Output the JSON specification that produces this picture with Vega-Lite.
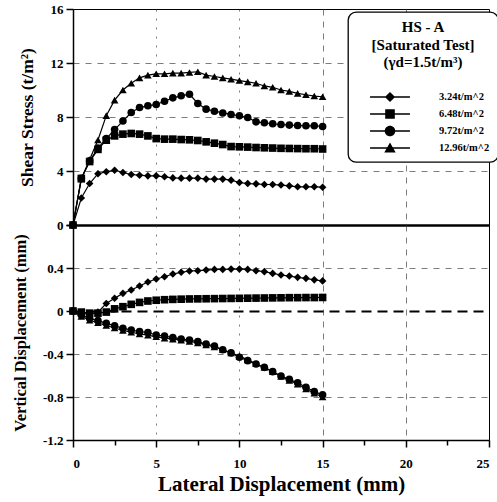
{
  "$schema": "https://vega.github.io/schema/vega-lite/v6.json",
  "padding": {"left": 11, "top": 2, "right": 2, "bottom": 2},
  "config": {
    "font": "Liberation Serif",
    "view": {"stroke": "black", "strokeWidth": 1},
    "axis": {
      "labelFont": "Liberation Serif", "labelFontWeight": "bold", "labelFontSize": 13, "labelColor": "black",
      "titleFont": "Liberation Serif", "titleFontWeight": "bold", "titleColor": "black",
      "domainColor": "black", "tickColor": "black", "domainWidth": 1.5, "tickWidth": 1.5,
      "gridColor": "#444", "gridWidth": 0.7, "labelPadding": 3
    },
    "legend": {"strokeWidth": 1.3}
  },
  "datasets": {
    "main": [
      {"d":0,"s":"3.24t/m^2","tau":0,"v":0},{"d":0.5,"s":"3.24t/m^2","tau":2.0,"v":-0.02},{"d":1,"s":"3.24t/m^2","tau":3.07,"v":-0.03},{"d":1.5,"s":"3.24t/m^2","tau":3.8,"v":-0.01},{"d":2,"s":"3.24t/m^2","tau":3.94,"v":0.07},{"d":2.5,"s":"3.24t/m^2","tau":4.06,"v":0.118},{"d":3,"s":"3.24t/m^2","tau":3.89,"v":0.164},{"d":3.5,"s":"3.24t/m^2","tau":3.74,"v":0.195},{"d":4,"s":"3.24t/m^2","tau":3.69,"v":0.233},{"d":4.5,"s":"3.24t/m^2","tau":3.64,"v":0.27},{"d":5,"s":"3.24t/m^2","tau":3.64,"v":0.298},{"d":5.5,"s":"3.24t/m^2","tau":3.57,"v":0.319},{"d":6,"s":"3.24t/m^2","tau":3.49,"v":0.344},{"d":6.5,"s":"3.24t/m^2","tau":3.47,"v":0.36},{"d":7,"s":"3.24t/m^2","tau":3.47,"v":0.372},{"d":7.5,"s":"3.24t/m^2","tau":3.47,"v":0.375},{"d":8,"s":"3.24t/m^2","tau":3.4,"v":0.381},{"d":8.5,"s":"3.24t/m^2","tau":3.4,"v":0.387},{"d":9,"s":"3.24t/m^2","tau":3.4,"v":0.387},{"d":9.5,"s":"3.24t/m^2","tau":3.32,"v":0.39},{"d":10,"s":"3.24t/m^2","tau":3.15,"v":0.39},{"d":10.5,"s":"3.24t/m^2","tau":3.07,"v":0.387},{"d":11,"s":"3.24t/m^2","tau":3.05,"v":0.375},{"d":11.5,"s":"3.24t/m^2","tau":3.0,"v":0.366},{"d":12,"s":"3.24t/m^2","tau":3.0,"v":0.35},{"d":12.5,"s":"3.24t/m^2","tau":2.96,"v":0.335},{"d":13,"s":"3.24t/m^2","tau":2.9,"v":0.325},{"d":13.5,"s":"3.24t/m^2","tau":2.83,"v":0.313},{"d":14,"s":"3.24t/m^2","tau":2.83,"v":0.304},{"d":14.5,"s":"3.24t/m^2","tau":2.83,"v":0.29},{"d":15,"s":"3.24t/m^2","tau":2.8,"v":0.28},
      {"d":0,"s":"6.48t/m^2","tau":0,"v":0},{"d":0.5,"s":"6.48t/m^2","tau":3.45,"v":-0.01},{"d":1,"s":"6.48t/m^2","tau":4.7,"v":-0.02},{"d":1.5,"s":"6.48t/m^2","tau":5.6,"v":-0.02},{"d":2,"s":"6.48t/m^2","tau":6.28,"v":-0.01},{"d":2.5,"s":"6.48t/m^2","tau":6.6,"v":0.02},{"d":3,"s":"6.48t/m^2","tau":6.73,"v":0.04},{"d":3.5,"s":"6.48t/m^2","tau":6.78,"v":0.062},{"d":4,"s":"6.48t/m^2","tau":6.73,"v":0.08},{"d":4.5,"s":"6.48t/m^2","tau":6.6,"v":0.093},{"d":5,"s":"6.48t/m^2","tau":6.4,"v":0.1},{"d":5.5,"s":"6.48t/m^2","tau":6.36,"v":0.105},{"d":6,"s":"6.48t/m^2","tau":6.36,"v":0.108},{"d":6.5,"s":"6.48t/m^2","tau":6.33,"v":0.11},{"d":7,"s":"6.48t/m^2","tau":6.31,"v":0.112},{"d":7.5,"s":"6.48t/m^2","tau":6.26,"v":0.113},{"d":8,"s":"6.48t/m^2","tau":6.16,"v":0.114},{"d":8.5,"s":"6.48t/m^2","tau":6.06,"v":0.115},{"d":9,"s":"6.48t/m^2","tau":5.96,"v":0.116},{"d":9.5,"s":"6.48t/m^2","tau":5.81,"v":0.117},{"d":10,"s":"6.48t/m^2","tau":5.79,"v":0.118},{"d":10.5,"s":"6.48t/m^2","tau":5.77,"v":0.119},{"d":11,"s":"6.48t/m^2","tau":5.74,"v":0.12},{"d":11.5,"s":"6.48t/m^2","tau":5.72,"v":0.121},{"d":12,"s":"6.48t/m^2","tau":5.7,"v":0.122},{"d":12.5,"s":"6.48t/m^2","tau":5.68,"v":0.123},{"d":13,"s":"6.48t/m^2","tau":5.67,"v":0.124},{"d":13.5,"s":"6.48t/m^2","tau":5.66,"v":0.124},{"d":14,"s":"6.48t/m^2","tau":5.65,"v":0.125},{"d":14.5,"s":"6.48t/m^2","tau":5.65,"v":0.125},{"d":15,"s":"6.48t/m^2","tau":5.63,"v":0.126},
      {"d":0,"s":"9.72t/m^2","tau":0,"v":0},{"d":0.5,"s":"9.72t/m^2","tau":3.45,"v":-0.037},{"d":1,"s":"9.72t/m^2","tau":4.75,"v":-0.068},{"d":1.5,"s":"9.72t/m^2","tau":5.7,"v":-0.09},{"d":2,"s":"9.72t/m^2","tau":6.4,"v":-0.115},{"d":2.5,"s":"9.72t/m^2","tau":7.07,"v":-0.137},{"d":3,"s":"9.72t/m^2","tau":7.7,"v":-0.161},{"d":3.5,"s":"9.72t/m^2","tau":8.33,"v":-0.177},{"d":4,"s":"9.72t/m^2","tau":8.7,"v":-0.192},{"d":4.5,"s":"9.72t/m^2","tau":8.83,"v":-0.2},{"d":5,"s":"9.72t/m^2","tau":8.93,"v":-0.223},{"d":5.5,"s":"9.72t/m^2","tau":9.17,"v":-0.233},{"d":6,"s":"9.72t/m^2","tau":9.42,"v":-0.248},{"d":6.5,"s":"9.72t/m^2","tau":9.57,"v":-0.26},{"d":7,"s":"9.72t/m^2","tau":9.69,"v":-0.27},{"d":7.5,"s":"9.72t/m^2","tau":9.0,"v":-0.285},{"d":8,"s":"9.72t/m^2","tau":8.58,"v":-0.307},{"d":8.5,"s":"9.72t/m^2","tau":8.43,"v":-0.326},{"d":9,"s":"9.72t/m^2","tau":8.3,"v":-0.36},{"d":9.5,"s":"9.72t/m^2","tau":8.19,"v":-0.39},{"d":10,"s":"9.72t/m^2","tau":8.09,"v":-0.43},{"d":10.5,"s":"9.72t/m^2","tau":7.96,"v":-0.462},{"d":11,"s":"9.72t/m^2","tau":7.64,"v":-0.493},{"d":11.5,"s":"9.72t/m^2","tau":7.57,"v":-0.524},{"d":12,"s":"9.72t/m^2","tau":7.5,"v":-0.564},{"d":12.5,"s":"9.72t/m^2","tau":7.44,"v":-0.605},{"d":13,"s":"9.72t/m^2","tau":7.4,"v":-0.636},{"d":13.5,"s":"9.72t/m^2","tau":7.37,"v":-0.667},{"d":14,"s":"9.72t/m^2","tau":7.35,"v":-0.71},{"d":14.5,"s":"9.72t/m^2","tau":7.35,"v":-0.75},{"d":15,"s":"9.72t/m^2","tau":7.3,"v":-0.78},
      {"d":0,"s":"12.96t/m^2","tau":0,"v":0},{"d":0.5,"s":"12.96t/m^2","tau":3.4,"v":-0.05},{"d":1,"s":"12.96t/m^2","tau":4.85,"v":-0.085},{"d":1.5,"s":"12.96t/m^2","tau":6.3,"v":-0.11},{"d":2,"s":"12.96t/m^2","tau":8.1,"v":-0.135},{"d":2.5,"s":"12.96t/m^2","tau":9.25,"v":-0.158},{"d":3,"s":"12.96t/m^2","tau":10.0,"v":-0.18},{"d":3.5,"s":"12.96t/m^2","tau":10.5,"v":-0.198},{"d":4,"s":"12.96t/m^2","tau":10.9,"v":-0.213},{"d":4.5,"s":"12.96t/m^2","tau":11.1,"v":-0.225},{"d":5,"s":"12.96t/m^2","tau":11.2,"v":-0.24},{"d":5.5,"s":"12.96t/m^2","tau":11.2,"v":-0.252},{"d":6,"s":"12.96t/m^2","tau":11.25,"v":-0.262},{"d":6.5,"s":"12.96t/m^2","tau":11.25,"v":-0.272},{"d":7,"s":"12.96t/m^2","tau":11.3,"v":-0.283},{"d":7.5,"s":"12.96t/m^2","tau":11.35,"v":-0.297},{"d":8,"s":"12.96t/m^2","tau":11.1,"v":-0.315},{"d":8.5,"s":"12.96t/m^2","tau":11.0,"v":-0.335},{"d":9,"s":"12.96t/m^2","tau":10.9,"v":-0.36},{"d":9.5,"s":"12.96t/m^2","tau":10.8,"v":-0.39},{"d":10,"s":"12.96t/m^2","tau":10.7,"v":-0.42},{"d":10.5,"s":"12.96t/m^2","tau":10.6,"v":-0.455},{"d":11,"s":"12.96t/m^2","tau":10.5,"v":-0.49},{"d":11.5,"s":"12.96t/m^2","tau":10.3,"v":-0.525},{"d":12,"s":"12.96t/m^2","tau":10.2,"v":-0.565},{"d":12.5,"s":"12.96t/m^2","tau":10.0,"v":-0.61},{"d":13,"s":"12.96t/m^2","tau":9.9,"v":-0.645},{"d":13.5,"s":"12.96t/m^2","tau":9.75,"v":-0.68},{"d":14,"s":"12.96t/m^2","tau":9.65,"v":-0.725},{"d":14.5,"s":"12.96t/m^2","tau":9.55,"v":-0.765},{"d":15,"s":"12.96t/m^2","tau":9.5,"v":-0.8}
    ]
  },
  "spacing": 0,
  "bounds": "flush",
  "vconcat": [
    {
      "width": 416,
      "height": 216,
      "data": {"name": "main"},
      "layer": [
        {
          "mark": {"type": "line", "color": "black", "strokeWidth": 1.2},
          "encoding": {
            "x": {"field": "d", "type": "quantitative", "scale": {"domain": [0, 25], "nice": false},
              "axis": {"title": null, "labels": false, "ticks": false, "domainWidth": 2.5, "values": [5, 10, 15, 20], "grid": true,
                "gridDash": {"condition": {"test": "datum.value < 12", "value": [2, 7]}, "value": [6, 6]}}},
            "y": {"field": "tau", "type": "quantitative", "scale": {"domain": [0, 16], "nice": false},
              "axis": {"title": "Shear  Stress (t/m²)", "titleFontSize": 17.5, "titlePadding": 14,
                "values": [0, 2, 4, 6, 8, 10, 12, 14, 16],
                "labelExpr": "datum.value % 4 === 0 ? datum.label : ''",
                "tickSize": {"condition": {"test": "datum.value % 4 === 0", "value": 7}, "value": 4},
                "grid": true, "gridDash": [6, 6],
                "gridOpacity": {"condition": {"test": "datum.value % 4 === 0 && datum.value > 0 && datum.value < 16", "value": 1}, "value": 0}}},
            "detail": {"field": "s", "type": "nominal"}
          }
        },
        {
          "mark": {"type": "point", "filled": true, "color": "black", "opacity": 1, "size": 58},
          "encoding": {
            "x": {"field": "d", "type": "quantitative"},
            "y": {"field": "tau", "type": "quantitative"},
            "shape": {"field": "s", "type": "nominal",
              "scale": {"domain": ["3.24t/m^2", "6.48t/m^2", "9.72t/m^2", "12.96t/m^2"], "range": ["diamond", "square", "circle", "triangle-up"]},
              "legend": null}
          }
        },
        {
          "data": {"values": []},
          "mark": {"type": "point", "filled": true, "color": "black"},
          "encoding": {
            "shape": {"field": "s", "type": "nominal",
              "scale": {"domain": ["3.24t/m^2", "6.48t/m^2", "9.72t/m^2", "12.96t/m^2"],
                "range": [
                  "M-3.33,-0.12H3.33V0.12H-3.33ZM0,-0.85L0.85,0L0,0.85L-0.85,0Z",
                  "M-3.33,-0.12H3.33V0.12H-3.33ZM-0.8,-0.8H0.8V0.8H-0.8Z",
                  "M-3.33,-0.12H3.33V0.12H-3.33ZM-0.88,0A0.88,0.88,0,1,1,0.88,0A0.88,0.88,0,1,1,-0.88,0Z",
                  "M-3.33,-0.12H3.33V0.12H-3.33ZM0,-0.9L0.95,0.75L-0.95,0.75Z"
                ]},
              "legend": {
                "title": ["HS - A", "[Saturated Test]", "(γd=1.5t/m³)"],
                "orient": "none", "legendX": 275, "legendY": 3,
                "strokeColor": "black", "fillColor": "white", "cornerRadius": 8, "padding": 8,
                "titleFont": "Liberation Serif", "titleFontSize": 15, "titleFontWeight": "bold", "titleColor": "black",
                "titleAnchor": "middle", "titleAlign": "center", "titleLineHeight": 17.5, "titlePadding": 21, "titleLimit": 300,
                "labelFont": "Liberation Serif", "labelFontSize": 10.5, "labelFontWeight": "bold", "labelColor": "black",
                "labelOffset": 43, "symbolOffset": 28,
                "symbolSize": 144, "symbolStrokeWidth": 0, "symbolFillColor": "black", "symbolOpacity": 1,
                "rowPadding": 5
              }
            }
          }
        }
      ],
      "resolve": {"scale": {"shape": "independent"}}
    },
    {
      "width": 416,
      "height": 215,
      "data": {"name": "main"},
      "layer": [
        {
          "mark": {"type": "line", "color": "black", "strokeWidth": 1.2},
          "encoding": {
            "x": {"field": "d", "type": "quantitative", "scale": {"domain": [0, 25], "nice": false},
              "axis": {"title": "Lateral  Displacement (mm)", "titleFontSize": 21, "titlePadding": 3,
                "values": [0, 2.5, 5, 7.5, 10, 12.5, 15, 17.5, 20, 22.5, 25],
                "labelExpr": "datum.value % 5 === 0 ? datum.label : ''",
                "labelPadding": 10, "labelFontSize": 13,
                "tickSize": {"condition": {"test": "datum.value % 5 === 0", "value": 7}, "value": 5},
                "grid": true,
                "gridDash": {"condition": {"test": "datum.value < 12", "value": [2, 7]}, "value": [6, 6]},
                "gridOpacity": {"condition": {"test": "datum.value % 5 === 0 && datum.value > 0 && datum.value < 25", "value": 1}, "value": 0}}},
            "y": {"field": "v", "type": "quantitative", "scale": {"domain": [-1.2, 0.8], "nice": false},
              "axis": {"title": "Vertical  Displacement (mm)", "titleFontSize": 16.5, "titlePadding": 14,
                "values": [-1.2, -1.0, -0.8, -0.6, -0.4, -0.2, 0, 0.2, 0.4, 0.6, 0.8],
                "labelExpr": "abs(round(datum.value*10)) % 4 === 0 && datum.value < 0.7 ? (abs(datum.value) < 0.01 ? '0' : replace(format(datum.value, '.1f'), '−', '-')) : ''",
                "tickSize": {"condition": {"test": "abs(round(datum.value*10)) % 4 === 0", "value": 7}, "value": 4},
                "grid": true,
                "gridDash": {"condition": {"test": "abs(datum.value) < 0.01", "value": [10, 6]}, "value": [6, 6]},
                "gridWidth": {"condition": {"test": "abs(datum.value) < 0.01", "value": 2}, "value": 0.7},
                "gridColor": {"condition": {"test": "abs(datum.value) < 0.01", "value": "black"}, "value": "#444"},
                "gridOpacity": {"condition": {"test": "abs(round(datum.value*10)) % 4 === 0 && datum.value > -1.1 && datum.value < 0.7", "value": 1}, "value": 0}}},
            "detail": {"field": "s", "type": "nominal"}
          }
        },
        {
          "mark": {"type": "point", "filled": true, "color": "black", "opacity": 1, "size": 58},
          "encoding": {
            "x": {"field": "d", "type": "quantitative"},
            "y": {"field": "v", "type": "quantitative"},
            "shape": {"field": "s", "type": "nominal",
              "scale": {"domain": ["3.24t/m^2", "6.48t/m^2", "9.72t/m^2", "12.96t/m^2"], "range": ["diamond", "square", "circle", "triangle-up"]},
              "legend": null}
          }
        }
      ]
    }
  ]
}
